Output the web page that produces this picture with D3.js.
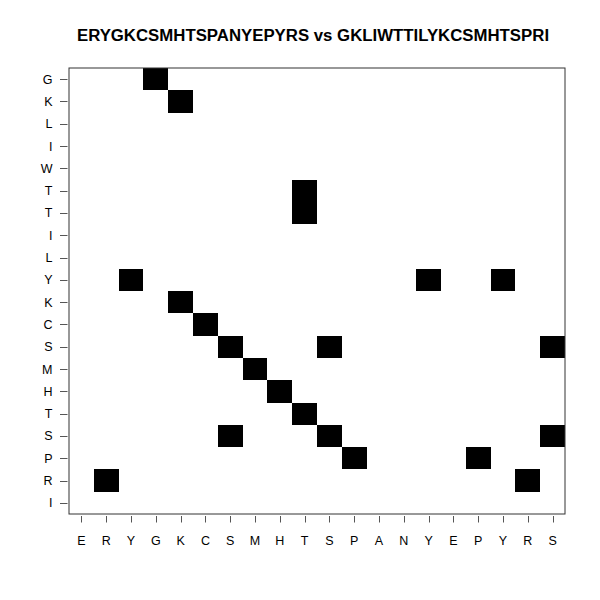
<!DOCTYPE html>
<html><head><meta charset="utf-8">
<script src="https://cdn.jsdelivr.net/npm/d3@7"></script>
<style>body{margin:0;background:#fff}</style>
</head><body>
<script>
const title = "ERYGKCSMHTSPANYEPYRS vs GKLIWTTILYKCSMHTSPRI";
const xLabels = ["E","R","Y","G","K","C","S","M","H","T","S","P","A","N","Y","E","P","Y","R","S"];
const yLabels = ["G","K","L","I","W","T","T","I","L","Y","K","C","S","M","H","T","S","P","R","I"]; // top to bottom
// matching cells: [x index, y index from top]
const matches = [[3,0],[4,1],[9,5],[9,6],[2,9],[14,9],[17,9],[4,10],[5,11],[6,12],[10,12],[19,12],[7,13],[8,14],[9,15],[6,16],[10,16],[19,16],[11,17],[16,17],[1,18],[18,18]];

const W=600,H=600;
const L=69,R=565,T=68,B=514;
const svg=d3.select("body").append("svg").attr("width",W).attr("height",H);
svg.append("rect").attr("width",W).attr("height",H).attr("fill","#fff");

const x=d3.scaleBand().domain(d3.range(xLabels.length)).range([L,R]).padding(0);
const y=d3.scaleBand().domain(d3.range(yLabels.length)).range([T,B]).padding(0);

svg.append("g").attr("shape-rendering","crispEdges").selectAll("rect").data(matches).join("rect")
  .attr("x",d=>x(d[0])).attr("y",d=>y(d[1]))
  .attr("width",x.bandwidth()).attr("height",y.bandwidth())
  .attr("fill","#000");

svg.append("rect").attr("x",L).attr("y",T).attr("width",R-L).attr("height",B-T)
  .attr("fill","none").attr("stroke","#333").attr("stroke-width",1);

const font="Liberation Sans, Arial, sans-serif";
// x axis
const gx=svg.append("g");
gx.selectAll("line").data(d3.range(xLabels.length)).join("line")
  .attr("x1",i=>Math.round(x(i)+x.bandwidth()/2)+0.5).attr("x2",i=>Math.round(x(i)+x.bandwidth()/2)+0.5)
  .attr("y1",B+2).attr("y2",B+8.5).attr("stroke","#555").attr("stroke-width",1);
gx.selectAll("text").data(d3.range(xLabels.length)).join("text")
  .attr("x",i=>x(i)+x.bandwidth()/2).attr("y",544.5)
  .attr("text-anchor","middle").attr("font-family",font).attr("font-size","12.5px")
  .text(i=>xLabels[i]);
// y axis
const gy=svg.append("g");
gy.selectAll("line").data(d3.range(yLabels.length)).join("line")
  .attr("y1",i=>Math.round(y(i)+y.bandwidth()/2)+0.5).attr("y2",i=>Math.round(y(i)+y.bandwidth()/2)+0.5)
  .attr("x1",60).attr("x2",67.5).attr("stroke","#555").attr("stroke-width",1);
gy.selectAll("text").data(d3.range(yLabels.length)).join("text")
  .attr("x",52.5).attr("y",i=>y(i)+y.bandwidth()/2+4.5)
  .attr("text-anchor","end").attr("font-family",font).attr("font-size","12.5px")
  .text(i=>yLabels[i]);

svg.append("text").attr("x",313).attr("y",40.5).attr("text-anchor","middle")
  .attr("font-family",font).attr("font-weight","bold").attr("font-size","16.8px").text(title);
</script>
</body></html>
